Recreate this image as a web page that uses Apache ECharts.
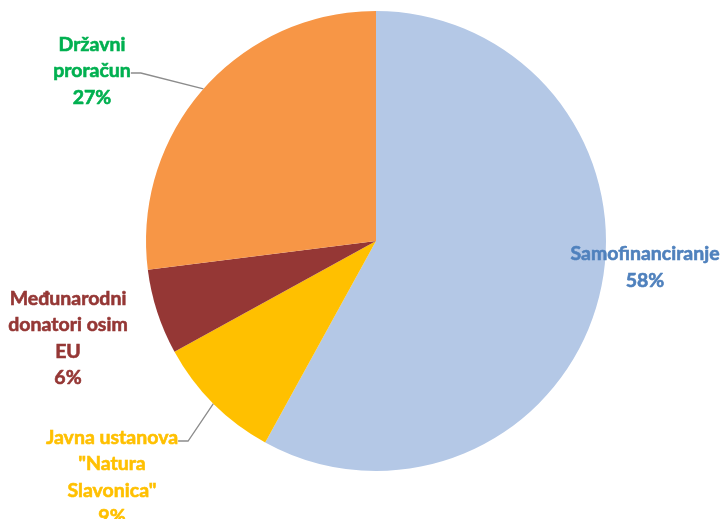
<!DOCTYPE html>
<html>
<head>
<meta charset="utf-8">
<script src="https://cdn.jsdelivr.net/npm/echarts@6/dist/echarts.min.js"></script>
<style>html,body{margin:0;padding:0;background:#fff}#c{width:725px;height:519px}</style>
</head>
<body>
<div id="c"></div>
<script>
const categories = ['Samofinanciranje', 'Javna ustanova\n"Natura\nSlavonica"', 'Međunarodni\ndonatori osim\nEU', 'Državni\nproračun'];
const values = [58, 9, 6, 27];
const sliceColors = ['#b4c8e6', '#ffc000', '#953735', '#f79646'];
const labelColors = ['#4f81bd', '#ffc000', '#953735', '#00b050'];
const labelPos = [[645, 267], [112, 477], [68, 338], [92, 71]];
// anchor text (one line of the label) where each leader line attaches
const anchorText = ['', 'Javna ustanova', '', 'proračun'];
const anchorPos = [[0, 0], [112, 441], [0, 0], [92, 73]];

const font = { fontFamily: 'Lato', fontWeight: 'bold', fontSize: 19.5, lineHeight: 26.5 };

const chart = echarts.init(document.getElementById('c'));
chart.setOption({
  animation: false,
  series: [{
    type: 'pie',
    center: [376, 241],
    radius: [0, 230],
    startAngle: 90,
    clockwise: true,
    data: categories.map((n, i) => ({
      name: n,
      value: values[i],
      itemStyle: { color: sliceColors[i] },
      label: { color: labelColors[i], textBorderColor: labelColors[i], textBorderWidth: 0.6 }
    })),
    label: Object.assign({
      show: true,
      position: 'outside',
      formatter: p => p.name + '\n' + p.value + '%',
      overflow: 'none',
      align: 'center'
    }, font),
    labelLine: { show: false },
    labelLayout: function (params) {
      const i = params.dataIndex;
      return { x: labelPos[i][0], y: labelPos[i][1], align: 'center', verticalAlign: 'middle' };
    }
  }, {
    type: 'pie',
    silent: true,
    center: [376, 241],
    radius: [0, 230],
    startAngle: 90,
    clockwise: true,
    z: 1,
    data: categories.map((n, i) => ({
      name: n,
      value: values[i],
      itemStyle: { color: 'rgba(0,0,0,0)' },
      label: { show: anchorText[i] !== '' },
      labelLine: { show: anchorText[i] !== '' }
    })),
    label: Object.assign({
      position: 'outside',
      color: 'rgba(0,0,0,0)',
      overflow: 'none',
      formatter: p => anchorText[p.dataIndex]
    }, font),
    labelLine: { lineStyle: { color: '#8c8c8c', width: 1.3 }, length: 10, length2: 10 },
    labelLayout: function (params) {
      const i = params.dataIndex;
      return { x: anchorPos[i][0], y: anchorPos[i][1], align: 'center', verticalAlign: 'middle' };
    }
  }]
});
</script>
</body>
</html>
